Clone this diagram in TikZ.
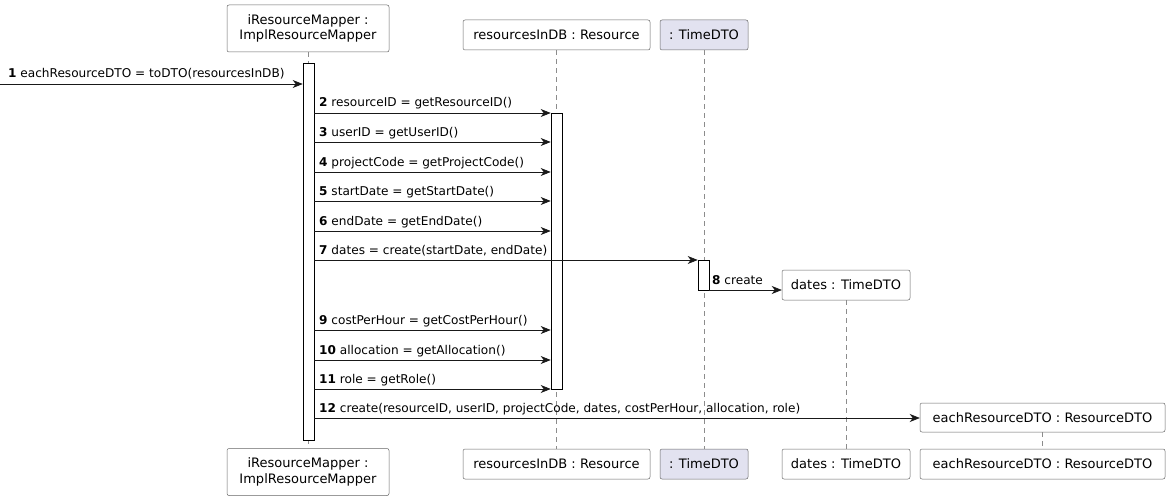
\documentclass[tikz,border=0pt]{standalone}
\usepackage{fontspec}
\setmainfont{DejaVu Sans}
\usetikzlibrary{arrows.meta,calc}
\definecolor{partfill}{HTML}{E2E2F0}
\begin{document}
\begin{tikzpicture}[x=1pt,y=-1pt,
  part/.style={draw=black!60, rounded corners=2pt, fill=white, line width=0.5pt,
    font=\fontsize{13}{15.5}\selectfont, inner sep=0pt, align=center},
  life/.style={draw=black!45, dash pattern=on 5pt off 4pt, line width=0.5pt},
  actbar/.style={draw=black, fill=white, line width=0.6pt, inner sep=0pt, minimum width=11pt},
  msg/.style={draw=black!90, line width=0.6pt, -{Stealth[length=10pt,width=8pt,inset=3pt]}},
  mlabel/.style={font=\fontsize{12.1}{14}\selectfont, anchor=base west, inner sep=0pt}]
\useasboundingbox (0,0) rectangle (1169,500);

% participants, top row
\node[part, minimum width=162pt, minimum height=47pt] (mapT) at (308,28.5) {iResourceMapper :\\ ImplResourceMapper};
\node[part, minimum width=187pt, minimum height=30pt] (dbT) at (556.5,35) {resourcesInDB : Resource};
\node[part, fill=partfill, minimum width=88pt, minimum height=30pt] (timeT) at (704,35) {: TimeDTO};
% participants created during the interaction
\node[part, minimum width=128pt, minimum height=30pt] (datesN) at (846,285) {dates : TimeDTO};
\node[part, minimum width=245pt, minimum height=29pt] (eachN) at (1042.5,417.5) {eachResourceDTO : ResourceDTO};

% participants, bottom row
\node[part, minimum width=162pt, minimum height=47pt] (mapB) at (308,472) {iResourceMapper :\\ ImplResourceMapper};
\node[part, minimum width=187pt, minimum height=30pt] (dbB) at (556.5,464) {resourcesInDB : Resource};
\node[part, fill=partfill, minimum width=88pt, minimum height=30pt] (timeB) at (704,464) {: TimeDTO};
\node[part, minimum width=128pt, minimum height=30pt] (datesB) at (846,464) {dates : TimeDTO};
\node[part, minimum width=245pt, minimum height=30pt] (eachB) at (1042.5,464) {eachResourceDTO : ResourceDTO};

% lifelines
\draw[life] (mapT.south) -- (mapB.north);
\draw[life] (dbT.south) -- (dbB.north);
\draw[life] (timeT.south) -- (timeB.north);
\draw[life] (datesN.south) -- (datesB.north);
\draw[life] (eachN.south) -- (eachB.north);

% activations
\node[actbar, minimum height=377pt] (actMap) at (308.5,251.5) {};
\node[actbar, minimum height=276pt] (actDb) at (556.5,251) {};
\node[actbar, minimum height=30pt] (actTime) at (703.5,275) {};

% incoming call
\coordinate (caller) at (0,84);
\draw[msg] (caller) -- (actMap.west |- caller);
\node[mlabel] at (8,78) {\textbf{1} eachResourceDTO = toDTO(resourcesInDB)};

% getters on resourcesInDB
\foreach \yy/\num/\txt in {113/2/resourceID = getResourceID(),
                           142/3/userID = getUserID(),
                           172/4/projectCode = getProjectCode(),
                           201/5/startDate = getStartDate(),
                           231/6/endDate = getEndDate(),
                           330/9/costPerHour = getCostPerHour(),
                           360/10/allocation = getAllocation(),
                           389/11/role = getRole()}{
  \draw[msg] (actMap.east |- 0,\yy) -- (actDb.west |- 0,\yy);
  \node[mlabel] at (319,\yy-6) {\textbf{\num} \txt};
}

% creation of dates
\draw[msg] (actMap.east |- 0,260) -- (actTime.west |- 0,260);
\node[mlabel] at (319,254) {\textbf{7} dates = create(startDate, endDate)};
\draw[msg] (actTime.east |- 0,290) -- (datesN.west |- 0,290);
\node[mlabel] at (712,284) {\textbf{8} create};

% creation of the DTO
\draw[msg] (actMap.east |- 0,418) -- (eachN.west |- 0,418);
\node[mlabel] at (319,412) {\textbf{12} create(resourceID, userID, projectCode, dates, costPerHour, allocation, role)};
\end{tikzpicture}
\end{document}
